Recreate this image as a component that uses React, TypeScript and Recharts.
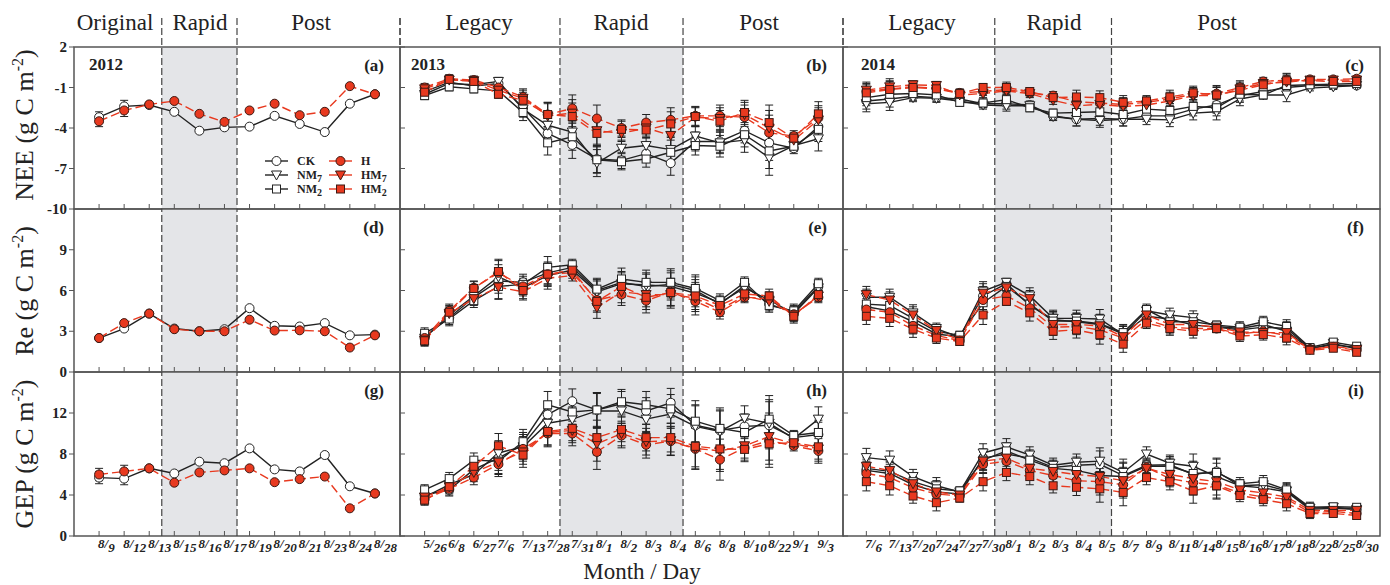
import React from 'react';
import { LineChart, Line, XAxis, YAxis, ReferenceArea, ReferenceLine, ErrorBar } from 'recharts';

// ---- 2012 (a, d, g) ----
const dates2012 = ['8/9', '8/12', '8/13', '8/15', '8/16', '8/17', '8/19', '8/20', '8/21', '8/23', '8/24', '8/28'];
const nee2012CK = [-3.2, -2.4, -2.3, -2.8, -4.2, -3.95, -3.9, -3.1, -3.7, -4.3, -2.2, -1.5];
const nee2012H = [-3.5, -2.7, -2.25, -2.0, -2.95, -3.55, -2.7, -2.2, -3.05, -2.8, -0.9, -1.5];
const nee2012Err = [0.4, 0.45, 0.1, 0, 0, 0, 0, 0, 0, 0, 0, 0];
const re2012CK = [2.5, 3.2, 4.3, 3.2, 3.0, 3.15, 4.7, 3.4, 3.35, 3.6, 2.7, 2.75];
const re2012H = [2.5, 3.6, 4.3, 3.15, 3.0, 3.0, 3.85, 3.05, 3.07, 3.0, 1.8, 2.7];
const re2012Err = [0.1, 0.1, 0.1, 0, 0, 0, 0, 0, 0, 0, 0, 0];
const gep2012CK = [5.7, 5.6, 6.6, 6.1, 7.25, 7.1, 8.55, 6.5, 6.3, 7.9, 4.85, 4.15];
const gep2012H = [6.0, 6.3, 6.6, 5.2, 6.2, 6.4, 6.6, 5.25, 5.55, 5.8, 2.7, 4.15];
const gep2012Err = [0.6, 0.6, 0.1, 0, 0, 0, 0, 0, 0, 0, 0, 0];

// ---- 2013 (b, e, h) ----
const dates2013 = ['5/26', '6/8', '6/27', '7/6', '7/13', '7/28', '7/31', '8/1', '8/2', '8/3', '8/4', '8/6', '8/8', '8/10', '8/22', '9/1', '9/3'];
const nee2013CK = [-1.3, -0.6, -0.9, -0.7, -2.5, -4.4, -5.25, -6.3, -6.4, -5.9, -6.6, -5.0, -5.0, -4.2, -5.1, -5.5, -3.9];
const nee2013NM7 = [-1.5, -0.7, -0.8, -0.55, -2.6, -3.8, -4.3, -6.6, -5.5, -5.3, -5.6, -4.6, -5.1, -4.9, -6.2, -5.3, -4.8];
const nee2013NM2 = [-1.6, -0.95, -1.1, -1.25, -2.85, -5.1, -4.65, -6.35, -6.5, -6.3, -5.8, -5.3, -5.35, -4.5, -5.7, -5.35, -4.1];
const nee2013H = [-1.0, -0.35, -0.45, -1.0, -1.7, -3.0, -2.55, -3.3, -4.0, -3.6, -3.4, -3.1, -3.1, -3.2, -4.35, -4.6, -3.25];
const nee2013HM7 = [-1.1, -0.45, -0.5, -1.2, -1.8, -3.1, -2.9, -4.2, -4.4, -4.0, -4.55, -3.2, -3.3, -3.0, -4.0, -4.9, -3.4];
const nee2013HM2 = [-1.35, -0.4, -0.55, -1.5, -1.95, -3.0, -3.15, -4.4, -4.1, -4.15, -3.7, -3.15, -3.5, -2.85, -3.6, -4.75, -2.95];
const nee2013Err = [0.3, 0.3, 0.3, 0.3, 0.6, 0.9, 1.0, 1.0, 0.6, 0.6, 0.9, 0.7, 0.8, 0.9, 1.3, 0.4, 0.9];
const re2013CK = [2.6, 4.0, 5.5, 6.7, 6.6, 7.3, 7.7, 6.0, 6.6, 6.3, 6.45, 6.0, 5.0, 6.35, 5.0, 4.4, 6.3];
const re2013NM7 = [2.5, 4.2, 5.6, 7.0, 6.2, 7.1, 7.5, 5.9, 6.5, 6.4, 6.3, 5.8, 5.1, 6.2, 5.3, 4.3, 6.2];
const re2013NM2 = [2.85, 3.9, 5.25, 6.3, 6.45, 7.7, 7.9, 6.1, 6.85, 6.6, 6.6, 6.15, 5.25, 6.6, 4.9, 4.5, 6.5];
const re2013H = [2.5, 4.5, 6.2, 7.3, 6.3, 7.2, 7.3, 5.3, 5.7, 5.25, 5.9, 5.2, 4.4, 5.5, 5.4, 4.25, 5.5];
const re2013HM7 = [2.35, 4.3, 5.4, 6.25, 5.9, 6.9, 7.1, 4.75, 5.9, 5.7, 5.7, 5.45, 4.6, 5.6, 5.2, 4.2, 5.6];
const re2013HM2 = [2.3, 4.4, 6.15, 7.4, 6.0, 7.2, 7.5, 5.2, 6.3, 5.5, 5.85, 5.6, 4.9, 5.75, 5.6, 4.1, 5.7];
const re2013Err = [0.4, 0.5, 0.5, 0.9, 0.6, 0.8, 0.4, 0.8, 0.8, 0.9, 1.0, 1.0, 0.5, 0.4, 0.5, 0.5, 0.4];
const gep2013CK = [4.0, 4.5, 6.5, 7.6, 8.9, 11.85, 13.15, 12.3, 12.9, 12.2, 13.0, 10.8, 10.3, 10.7, 10.8, 9.6, 9.9];
const gep2013NM7 = [3.8, 5.0, 6.0, 8.1, 8.7, 11.0, 11.4, 12.2, 12.2, 11.4, 11.9, 10.7, 10.2, 11.5, 11.0, 9.5, 11.4];
const gep2013NM2 = [4.5, 5.6, 7.4, 7.3, 9.2, 12.8, 12.1, 12.3, 13.1, 12.8, 12.4, 11.2, 10.5, 10.1, 11.4, 9.8, 10.1];
const gep2013H = [3.6, 4.6, 5.7, 7.0, 8.5, 10.0, 10.0, 8.2, 9.8, 8.9, 9.25, 8.5, 7.45, 8.6, 9.3, 8.8, 8.3];
const gep2013HM7 = [3.8, 4.8, 6.2, 7.2, 8.2, 10.1, 10.3, 9.0, 10.0, 9.2, 9.3, 8.55, 8.3, 8.8, 9.7, 9.0, 8.5];
const gep2013HM2 = [3.5, 4.8, 6.8, 8.8, 7.9, 10.2, 10.5, 9.6, 10.4, 9.6, 9.6, 8.75, 8.5, 8.45, 9.0, 9.1, 8.7];
const gep2013Err = [0.5, 0.6, 0.7, 1.2, 1.2, 1.3, 1.2, 1.7, 1.2, 1.3, 1.4, 2.0, 2.0, 1.2, 2.3, 0.5, 1.2];

// ---- 2014 (c, f, i) ----
const dates2014 = ['7/6', '7/13', '7/20', '7/24', '7/27', '7/30', '8/1', '8/2', '8/3', '8/4', '8/5', '8/7', '8/9', '8/11', '8/14', '8/15', '8/16', '8/17', '8/18', '8/22', '8/25', '8/30'];
const nee2014CK = [-2.0, -1.85, -1.65, -1.75, -1.85, -2.2, -2.2, -2.3, -3.1, -3.35, -3.3, -3.35, -3.1, -3.1, -2.6, -2.3, -1.6, -1.3, -1.0, -0.85, -0.85, -0.85];
const nee2014NM7 = [-2.2, -2.1, -1.75, -1.8, -2.0, -2.3, -2.35, -2.35, -3.15, -3.35, -3.45, -3.35, -3.35, -3.4, -2.9, -2.8, -1.85, -1.55, -1.55, -1.05, -0.95, -0.85];
const nee2014NM2 = [-1.75, -1.5, -1.45, -1.55, -2.1, -2.15, -1.9, -2.5, -2.9, -2.85, -2.8, -3.0, -2.6, -2.7, -2.4, -2.5, -1.5, -1.55, -0.85, -0.8, -0.75, -0.7];
const nee2014H = [-1.3, -1.1, -0.95, -1.05, -1.4, -1.3, -1.15, -1.4, -1.6, -2.05, -2.15, -2.25, -2.1, -1.85, -1.5, -1.45, -1.0, -0.55, -0.45, -0.4, -0.4, -0.35];
const nee2014HM7 = [-1.2, -0.95, -0.8, -0.85, -1.55, -1.45, -1.25, -1.45, -1.95, -2.35, -2.25, -2.4, -2.3, -2.0, -1.6, -1.6, -1.1, -0.7, -0.6, -0.45, -0.45, -0.45];
const nee2014HM2 = [-1.4, -1.15, -1.0, -1.1, -1.45, -1.0, -1.0, -1.3, -1.75, -1.7, -1.75, -2.1, -2.0, -1.7, -1.4, -1.55, -1.2, -0.8, -0.5, -0.5, -0.55, -0.55];
const nee2014Err = [0.6, 0.6, 0.3, 0.3, 0.3, 0.3, 0.4, 0.3, 0.3, 0.5, 0.5, 0.5, 0.4, 0.5, 0.5, 0.6, 0.5, 0.3, 0.5, 0.2, 0.2, 0.2];
const re2014CK = [4.8, 4.5, 3.7, 2.8, 2.6, 5.6, 6.5, 4.9, 3.85, 3.7, 3.5, 2.8, 4.1, 3.9, 3.45, 3.3, 3.1, 3.3, 3.2, 1.75, 2.0, 1.8];
const re2014NM7 = [5.5, 5.5, 4.35, 3.2, 2.55, 5.95, 6.6, 5.6, 3.95, 3.95, 3.9, 2.75, 4.5, 4.2, 4.0, 3.35, 3.2, 3.5, 3.0, 1.7, 2.1, 1.7];
const re2014NM2 = [5.0, 4.9, 3.95, 3.0, 2.7, 5.1, 6.3, 5.0, 3.75, 3.75, 3.55, 2.9, 4.6, 3.7, 3.7, 3.45, 3.3, 3.7, 3.35, 1.8, 2.2, 1.9];
const re2014H = [4.6, 4.4, 3.4, 2.7, 2.3, 5.3, 5.6, 4.7, 3.3, 3.35, 3.1, 2.5, 3.85, 3.3, 3.2, 3.2, 2.8, 3.0, 2.7, 1.7, 1.85, 1.6];
const re2014HM7 = [5.7, 5.3, 4.2, 3.05, 2.35, 5.8, 6.2, 5.4, 3.5, 3.5, 3.4, 2.6, 4.2, 3.5, 3.5, 3.3, 2.95, 2.9, 2.9, 1.65, 1.9, 1.65];
const re2014HM2 = [4.1, 3.95, 3.15, 2.5, 2.25, 4.2, 5.2, 4.35, 3.0, 3.1, 2.75, 2.05, 3.6, 3.2, 3.0, 3.2, 2.65, 2.75, 2.5, 1.6, 1.75, 1.45];
const re2014Err = [0.6, 0.6, 0.6, 0.4, 0.3, 0.7, 0.3, 0.6, 0.6, 0.6, 0.7, 0.6, 0.4, 0.5, 0.5, 0.3, 0.4, 0.4, 0.5, 0.2, 0.2, 0.2];
const gep2014CK = [6.4, 6.1, 5.0, 4.3, 4.1, 7.6, 8.0, 7.6, 6.7, 6.9, 7.0, 5.9, 6.9, 6.95, 6.0, 6.3, 4.9, 4.7, 4.3, 2.6, 2.7, 2.6];
const gep2014NM7 = [7.65, 7.4, 5.8, 4.9, 4.3, 8.1, 8.7, 7.9, 6.9, 7.2, 7.3, 6.2, 8.0, 7.1, 6.8, 5.8, 4.9, 5.0, 4.4, 2.7, 2.8, 2.6];
const gep2014NM2 = [6.6, 6.3, 5.3, 4.6, 4.4, 7.4, 8.3, 7.4, 6.6, 6.4, 5.9, 5.8, 6.8, 6.8, 6.1, 6.2, 5.1, 5.3, 4.5, 2.8, 2.85, 2.8];
const gep2014H = [6.1, 5.7, 4.7, 4.1, 3.9, 7.0, 7.3, 6.4, 5.9, 5.4, 5.3, 5.0, 6.7, 5.6, 5.2, 5.0, 4.2, 3.8, 3.6, 2.3, 2.4, 2.2];
const gep2014HM7 = [6.8, 6.4, 5.1, 4.3, 4.0, 7.3, 7.6, 6.6, 6.3, 6.0, 5.8, 5.4, 6.6, 6.0, 5.6, 5.3, 4.5, 4.2, 3.8, 2.5, 2.5, 2.5];
const gep2014HM2 = [5.3, 4.9, 3.9, 3.25, 3.7, 5.3, 6.2, 5.8, 4.9, 4.75, 4.6, 4.25, 5.7, 5.3, 4.4, 4.9, 3.95, 3.55, 3.15, 2.2, 2.2, 2.0];
const gep2014Err = [0.9, 0.9, 0.7, 0.8, 0.4, 0.9, 0.8, 0.8, 0.7, 0.8, 1.3, 1.3, 0.7, 0.8, 1.2, 1.3, 0.6, 0.6, 0.7, 0.5, 0.3, 0.3];

const neeTicks = [2, -1, -4, -7, -10];
const reTicks = [0, 3, 6, 9];
const gepTicks = [0, 4, 8, 12];

const RED = '#e8391f';
const INK = '#222';
const FRAME = '#555';
const SHADE = '#e4e5e8';
const SERIF = '"Liberation Serif", "Times New Roman", serif';

type SeriesKey = 'ck' | 'nm7' | 'nm2' | 'h' | 'hm7' | 'hm2';
type Shape = 'circle' | 'tri' | 'square';

const META: Record<SeriesKey, { name: string; sub: string; red: boolean; shape: Shape }> = {
  ck: { name: 'CK', sub: '', red: false, shape: 'circle' },
  nm7: { name: 'NM', sub: '7', red: false, shape: 'tri' },
  nm2: { name: 'NM', sub: '2', red: false, shape: 'square' },
  h: { name: 'H', sub: '', red: true, shape: 'circle' },
  hm7: { name: 'HM', sub: '7', red: true, shape: 'tri' },
  hm2: { name: 'HM', sub: '2', red: true, shape: 'square' },
};
const ORDER: SeriesKey[] = ['ck', 'nm7', 'nm2', 'h', 'hm7', 'hm2'];

const COLS = [
  { left: 74, width: 326 },
  { left: 400, width: 443 },
  { left: 843, width: 537 },
];
const ROWS = [
  { top: 47, height: 162 },
  { top: 209, height: 163 },
  { top: 372, height: 164 },
];

function marker(shape: Shape, red: boolean, cx: number, cy: number, key?: any) {
  const fill = red ? RED : '#fff';
  const stroke = red ? '#3b1a14' : INK;
  if (shape === 'circle') return <circle key={key} cx={cx} cy={cy} r={4.5} fill={fill} stroke={stroke} strokeWidth={1} />;
  if (shape === 'tri')
    return <polygon key={key} points={`${cx - 5},${cy - 4} ${cx + 5},${cy - 4} ${cx},${cy + 5}`} fill={fill} stroke={stroke} strokeWidth={1} />;
  return <rect key={key} x={cx - 4} y={cy - 4} width={8} height={8} fill={fill} stroke={stroke} strokeWidth={1} />;
}

const makeDot = (shape: Shape, red: boolean) => (p: any) => {
  if (p.cx == null || p.cy == null) return <g key={p.index} />;
  return marker(shape, red, p.cx, p.cy, p.index);
};

type PanelProps = {
  col: number;
  row: number;
  dates: string[];
  series: Partial<Record<SeriesKey, number[]>>;
  err: number[];
  domain: [number, number];
  ticks: number[];
  shade: [number, number];
  edges?: number[];
};

function Panel({ col, row, dates, series, err, domain, ticks, shade, edges = [] }: PanelProps) {
  const c = COLS[col];
  const r = ROWS[row];
  const first = col === 0;
  const topRow = row === 0;
  const bottomRow = row === 2;
  const yW = first ? 74 : 1;
  const xH = bottomRow ? 45 : 1;
  const mL = first ? 0 : 2;
  const mT = topRow ? 37 : 2;
  const mR = 3;
  const mB = bottomRow ? 2 : 10;
  const n = dates.length;
  const yExt = domain[1] + ((r.top - 18) * (domain[1] - domain[0])) / r.height;

  const rows = dates.map((d, i) => {
    const o: any = { x: i, err: err[i] };
    ORDER.forEach((k) => {
      if (series[k]) o[k] = series[k]![i];
    });
    return o;
  });

  const xTick = (p: any) => {
    const label = dates[p.payload.value] || '';
    const [m, d] = label.split('/');
    return (
      <g>
        <line x1={p.x} x2={p.x} y1={p.y} y2={p.y - 5} stroke={FRAME} strokeWidth={1} />
        {bottomRow && (
          <text x={p.x - 1} y={p.y + 12} fontFamily={SERIF} fontWeight="bold" fontStyle="italic" fontSize={13} fill={INK}>
            <tspan>{m}/</tspan>
            <tspan dy={4}>{d}</tspan>
          </text>
        )}
      </g>
    );
  };

  const yTick = (p: any) =>
    first ? (
      <g>
        <line x1={p.x - 5} x2={p.x} y1={p.y} y2={p.y} stroke={FRAME} strokeWidth={1} />
        <text x={p.x - 7} y={p.y + 5} textAnchor="end" fontFamily={SERIF} fontWeight="bold" fontSize={15} fill={INK}>
          {p.payload.value}
        </text>
      </g>
    ) : (
      <line x1={p.x} x2={p.x + 5} y1={p.y} y2={p.y} stroke={FRAME} strokeWidth={1} />
    );

  const dash = { stroke: '#444', strokeWidth: 1.2, strokeDasharray: '7 3' };

  return (
    <div style={{ position: 'absolute', left: c.left - yW - mL, top: r.top - mT }}>
      <LineChart width={mL + yW + c.width + mR} height={mT + r.height + xH + mB} data={rows} margin={{ top: mT, right: mR, bottom: mB, left: mL }}>
        <XAxis
          type="number"
          dataKey="x"
          domain={[-1, n]}
          ticks={dates.map((_, i) => i)}
          interval={0}
          allowDataOverflow
          axisLine={false}
          tickLine={false}
          tickSize={0}
          tickMargin={0}
          height={xH}
          tick={xTick}
        />
        <YAxis
          type="number"
          domain={domain}
          ticks={ticks}
          interval={0}
          allowDataOverflow
          axisLine={false}
          tickLine={false}
          tickSize={0}
          tickMargin={0}
          width={yW}
          tick={yTick}
        />
        <ReferenceArea x1={shade[0]} x2={shade[1]} y1={domain[0]} y2={domain[1]} fill={SHADE} fillOpacity={1} strokeWidth={0} />
        {shade.map((s) =>
          topRow ? (
            <ReferenceLine key={`s${s}`} segment={[{ x: s, y: yExt }, { x: s, y: domain[0] }]} ifOverflow="visible" {...dash} />
          ) : (
            <ReferenceLine key={`s${s}`} x={s} {...dash} />
          )
        )}
        {topRow &&
          edges.map((e) => (
            <ReferenceLine key={`e${e}`} segment={[{ x: e, y: yExt }, { x: e, y: domain[1] }]} ifOverflow="visible" {...dash} />
          ))}
        {ORDER.filter((k) => series[k]).map((k) => {
          const m = META[k];
          return (
            <Line
              key={k}
              dataKey={k}
              stroke={m.red ? RED : INK}
              strokeWidth={1.4}
              strokeDasharray={m.red ? '9 4' : undefined}
              dot={makeDot(m.shape, m.red)}
              activeDot={false}
              isAnimationActive={false}
            >
              <ErrorBar dataKey="err" width={4} stroke={INK} strokeWidth={1} direction="y" isAnimationActive={false} />
            </Line>
          );
        })}
        <ReferenceArea x1={-1} x2={n} y1={domain[0]} y2={domain[1]} fill="none" stroke={FRAME} strokeWidth={1.5} ifOverflow="visible" />
      </LineChart>
    </div>
  );
}

const txt = { fontFamily: SERIF, fill: INK } as const;

function Overlay() {
  const headers = [
    ['Original', 115], ['Rapid', 200], ['Post', 311],
    ['Legacy', 479], ['Rapid', 621], ['Post', 759],
    ['Legacy', 922], ['Rapid', 1054], ['Post', 1217],
  ] as const;
  const years = [['2012', 89], ['2013', 411], ['2014', 861]] as const;
  const letters = ['(a)', '(b)', '(c)', '(d)', '(e)', '(f)', '(g)', '(h)', '(i)'];
  const titles = [['NEE', 125], ['Re', 291], ['GEP', 454]] as const;
  const legendRows = [161, 175, 189];

  return (
    <svg width={1390} height={585} style={{ position: 'absolute', left: 0, top: 0, pointerEvents: 'none' }}>
      {headers.map(([t, x], i) => (
        <text key={i} x={x} y={30} textAnchor="middle" fontSize={23} {...txt}>{t}</text>
      ))}
      {years.map(([t, x]) => (
        <text key={t} x={x} y={70} fontSize={17} fontWeight="bold" {...txt}>{t}</text>
      ))}
      {letters.map((t, i) => {
        const c = COLS[i % 3];
        const r = ROWS[Math.floor(i / 3)];
        return (
          <text key={t} x={c.left + c.width - 16} y={r.top + 24} textAnchor="end" fontSize={17} fontWeight="bold" {...txt}>{t}</text>
        );
      })}
      {titles.map(([t, cy]) => (
        <text key={t} x={33} y={cy} transform={`rotate(-90 33 ${cy})`} textAnchor="middle" fontSize={26} {...txt}>
          {t} (g C m<tspan dy={-10} fontSize={16}>-2</tspan><tspan dy={10}>)</tspan>
        </text>
      ))}
      <text x={642} y={579} textAnchor="middle" fontSize={23} {...txt}>Month / Day</text>
      {ORDER.map((k, i) => {
        const m = META[k];
        const y = legendRows[i % 3];
        const x0 = m.red ? 329 : 265;
        return (
          <g key={k}>
            <line x1={x0} x2={x0 + 23} y1={y} y2={y} stroke={m.red ? RED : INK} strokeWidth={1.4} />
            {marker(m.shape, m.red, x0 + 11.5, y)}
            <text x={x0 + 32} y={y + 4} fontSize={12} fontWeight="bold" {...txt}>
              {m.name}
              {m.sub && <tspan dy={3} fontSize={10}>{m.sub}</tspan>}
            </text>
          </g>
        );
      })}
    </svg>
  );
}

export default function App() {
  return (
    <div style={{ position: 'absolute', left: 0, top: 0, width: 1390, height: 585, background: '#fff', overflow: 'hidden' }}>
      <Panel col={0} row={0} dates={dates2012} series={{ ck: nee2012CK, h: nee2012H }} err={nee2012Err} domain={[-10, 2]} ticks={neeTicks} shade={[2.5, 5.5]} edges={[12]} />
      <Panel col={0} row={1} dates={dates2012} series={{ ck: re2012CK, h: re2012H }} err={re2012Err} domain={[0, 12]} ticks={reTicks} shade={[2.5, 5.5]} />
      <Panel col={0} row={2} dates={dates2012} series={{ ck: gep2012CK, h: gep2012H }} err={gep2012Err} domain={[0, 16]} ticks={gepTicks} shade={[2.5, 5.5]} />

      <Panel col={1} row={0} dates={dates2013} series={{ ck: nee2013CK, nm7: nee2013NM7, nm2: nee2013NM2, h: nee2013H, hm7: nee2013HM7, hm2: nee2013HM2 }} err={nee2013Err} domain={[-10, 2]} ticks={neeTicks} shade={[5.5, 10.5]} edges={[-1, 17]} />
      <Panel col={1} row={1} dates={dates2013} series={{ ck: re2013CK, nm7: re2013NM7, nm2: re2013NM2, h: re2013H, hm7: re2013HM7, hm2: re2013HM2 }} err={re2013Err} domain={[0, 12]} ticks={reTicks} shade={[5.5, 10.5]} />
      <Panel col={1} row={2} dates={dates2013} series={{ ck: gep2013CK, nm7: gep2013NM7, nm2: gep2013NM2, h: gep2013H, hm7: gep2013HM7, hm2: gep2013HM2 }} err={gep2013Err} domain={[0, 16]} ticks={gepTicks} shade={[5.5, 10.5]} />

      <Panel col={2} row={0} dates={dates2014} series={{ ck: nee2014CK, nm7: nee2014NM7, nm2: nee2014NM2, h: nee2014H, hm7: nee2014HM7, hm2: nee2014HM2 }} err={nee2014Err} domain={[-10, 2]} ticks={neeTicks} shade={[5.5, 10.5]} edges={[-1]} />
      <Panel col={2} row={1} dates={dates2014} series={{ ck: re2014CK, nm7: re2014NM7, nm2: re2014NM2, h: re2014H, hm7: re2014HM7, hm2: re2014HM2 }} err={re2014Err} domain={[0, 12]} ticks={reTicks} shade={[5.5, 10.5]} />
      <Panel col={2} row={2} dates={dates2014} series={{ ck: gep2014CK, nm7: gep2014NM7, nm2: gep2014NM2, h: gep2014H, hm7: gep2014HM7, hm2: gep2014HM2 }} err={gep2014Err} domain={[0, 16]} ticks={gepTicks} shade={[5.5, 10.5]} />

      <Overlay />
    </div>
  );
}
